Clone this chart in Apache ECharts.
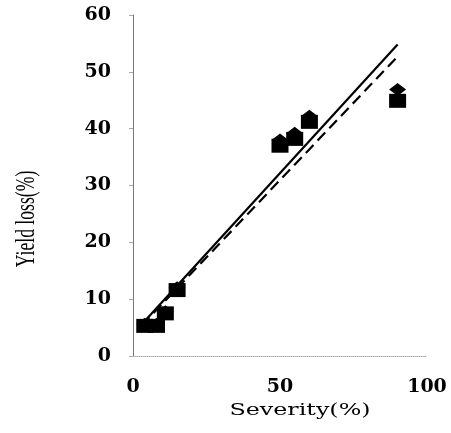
<!DOCTYPE html>
<html>
<head>
<meta charset="utf-8">
<script src="https://cdn.jsdelivr.net/npm/echarts@6/dist/echarts.min.js"></script>
<style>
  html, body { margin: 0; padding: 0; background: #fff; }
  #main { width: 451px; height: 433px; }
</style>
</head>
<body>
<div id="main"></div>
<script>
// severity (%) of each observation
var severity = [4, 8, 11, 15, 50, 55, 60, 90];
// yield loss, square markers
var lossSquare = [5.3, 5.3, 7.5, 11.6, 37.0, 38.2, 41.2, 44.9];
// yield loss, diamond markers
var lossDiamond = [5.6, 5.6, 7.8, 12.0, 38.0, 39.2, 42.2, 46.9];
// fitted lines (end points)
var fitX = [3, 90];
var fitSolid = [5.6, 54.8];
var fitDashed = [5.4, 52.7];
// ticks
var xTicks = [0, 50, 100];
var yTicks = [0, 10, 20, 30, 40, 50, 60];

function pairs(xs, ys) {
    var out = [];
    xs.forEach(function (x, i) {
        out.push([x, ys[i]]);
    });
    return out;
}

var myChart = echarts.init(document.getElementById('main'));

var labelFont = {
    color: '#000',
    fontFamily: 'DejaVu Serif',
    fontWeight: 'bold',
    fontSize: 19
};

var option = {
    backgroundColor: '#fff',
    animation: false,
    grid: {
        left: 133,
        right: 24,
        top: 15,
        bottom: 77
    },
    xAxis: {
        type: 'value',
        min: xTicks[0],
        max: xTicks[xTicks.length - 1],
        interval: 50,
        axisLine: { lineStyle: { color: '#aaa', width: 1, type: 'dotted' } },
        axisTick: { show: false },
        axisLabel: Object.assign({ margin: 22 }, labelFont),
        splitLine: { show: false }
    },
    yAxis: {
        type: 'value',
        min: yTicks[0],
        max: yTicks[yTicks.length - 1],
        interval: 10,
        axisLine: { show: true, lineStyle: { color: '#777', width: 1 } },
        axisTick: { show: true, length: 4, lineStyle: { color: '#aaa' } },
        axisLabel: Object.assign({ margin: 22 }, labelFont),
        splitLine: { show: false }
    },
    graphic: [
        {
            // y axis title, narrow serif
            type: 'text',
            x: 27,
            y: 219,
            rotation: Math.PI / 2,
            scaleX: 0.63,
            style: {
                text: 'Yield loss(%)',
                fill: '#000',
                font: '28px "Liberation Serif"',
                align: 'center',
                verticalAlign: 'middle'
            }
        },
        {
            // x axis title, wide serif
            type: 'text',
            x: 300,
            y: 411,
            scaleX: 1.4,
            style: {
                text: 'Severity(%)',
                fill: '#000',
                font: '17px "DejaVu Serif"',
                align: 'center',
                verticalAlign: 'middle'
            }
        }
    ],
    series: [
        {
            name: 'fit solid',
            type: 'line',
            data: pairs(fitX, fitSolid),
            symbol: 'none',
            lineStyle: { color: '#000', width: 2.2 },
            z: 3
        },
        {
            name: 'fit dashed',
            type: 'line',
            data: pairs(fitX, fitDashed),
            symbol: 'none',
            lineStyle: { color: '#000', width: 2.2, type: [11, 6] },
            z: 3
        },
        {
            name: 'diamond',
            type: 'scatter',
            data: pairs(severity, lossDiamond),
            symbol: 'diamond',
            symbolSize: [17, 13],
            itemStyle: { color: '#000', opacity: 1 },
            z: 4
        },
        {
            name: 'square',
            type: 'scatter',
            data: pairs(severity, lossSquare),
            symbol: 'rect',
            symbolSize: [17, 14],
            itemStyle: { color: '#000', opacity: 1 },
            z: 5
        }
    ]
};

myChart.setOption(option);
</script>
</body>
</html>
